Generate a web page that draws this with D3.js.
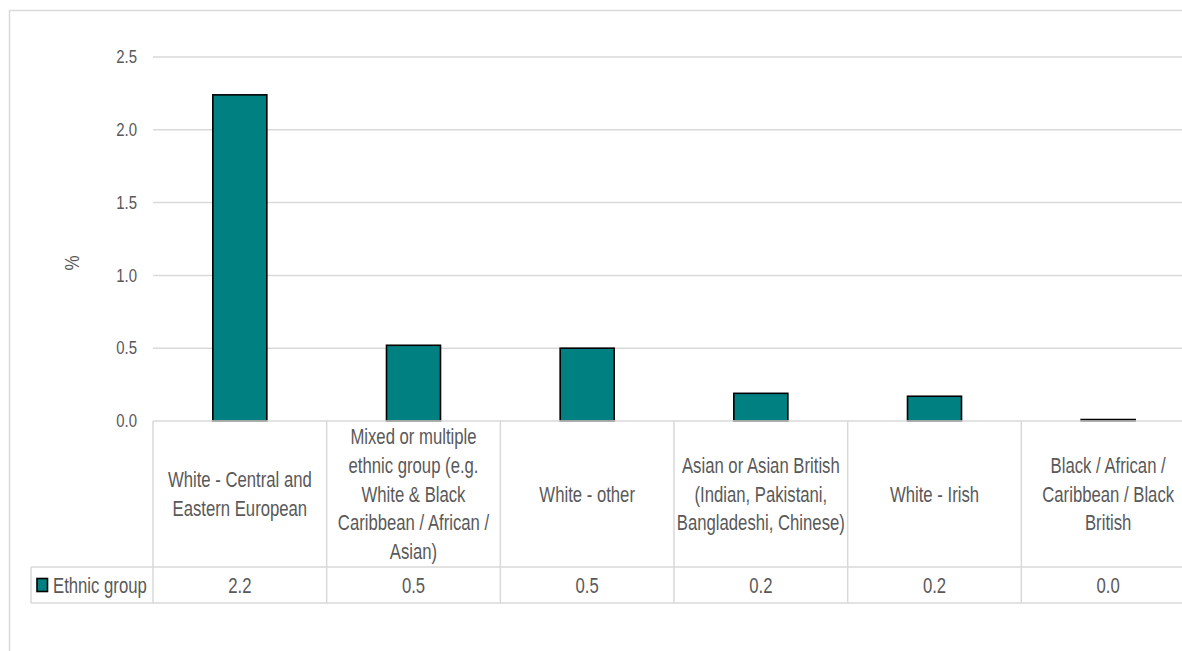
<!DOCTYPE html>
<html>
<head>
<meta charset="utf-8">
<script src="https://cdn.jsdelivr.net/npm/d3@7"></script>
<style>
  html, body { margin: 0; padding: 0; background: #fff; }
  svg { display: block; }
  text { font-family: "Liberation Sans", Arial, sans-serif; fill: #595959; }
</style>
</head>
<body>
<svg id="chart" width="1182" height="651"></svg>
<script>
// Share of respondents by ethnic group (%)
const categories = [
  "White - Central and Eastern European",
  "Mixed or multiple ethnic group (e.g. White & Black Caribbean / African / Asian)",
  "White - other",
  "Asian or Asian British (Indian, Pakistani, Bangladeshi, Chinese)",
  "White - Irish",
  "Black / African / Caribbean / Black British"
];
const values = [2.24, 0.52, 0.50, 0.19, 0.17, 0.01];
const seriesName = "Ethnic group";
const yTicks = [0, 0.5, 1.0, 1.5, 2.0, 2.5];
const yTitle = "%";

const svg = d3.select("#chart");
const grid = "#d9d9d9";
const teal = "#008080";
const SX = 0.76;       // horizontal squeeze giving a narrow face
const SX_TICK = 0.83;
const FS = 22;

const plotLeft = 153, plotRight = 1195;
const plotTop = 57, plotBottom = 421;
const catRowBottom = 567, valRowBottom = 603;
const legendLeft = 31;

const x = d3.scaleBand().domain(categories).range([plotLeft, plotRight]).padding(0);
const y = d3.scaleLinear().domain([0, 2.5]).range([plotBottom, plotTop]);
const barW = 54;

// narrow text placed at (px, py)
function label(parent, px, py, anchor, size, str) {
  const g = parent.append("g").attr("transform", `translate(${px},${py}) scale(${SX},1)`);
  return g.append("text").attr("text-anchor", anchor).attr("font-size", size)
    .attr("dy", "0.35em").text(str);
}

// outer chart frame
svg.append("path")
  .attr("d", `M9.5,651 V10.5 H1182`)
  .attr("fill", "none").attr("stroke", grid).attr("stroke-width", 1.5);

// gridlines
svg.append("g").selectAll("line").data(yTicks.filter(d => d > 0)).join("line")
  .attr("x1", plotLeft).attr("x2", plotRight)
  .attr("y1", d => y(d)).attr("y2", d => y(d))
  .attr("stroke", grid).attr("stroke-width", 1.5);

// y axis tick labels
const yAxis = d3.axisLeft(y).tickValues(yTicks).tickFormat(d3.format(".1f")).tickSize(0).tickPadding(16);
const yg = svg.append("g").attr("transform", `translate(${plotLeft},0)`).call(yAxis);
yg.select(".domain").remove();
yg.selectAll("text")
  .attr("font-size", 18).attr("fill", "#595959")
  .attr("font-family", "Liberation Sans, Arial, sans-serif")
  .attr("x", -16 / SX_TICK).attr("transform", `scale(${SX_TICK},1)`);

// y axis title
svg.append("g").attr("transform", `translate(72,${(plotTop + plotBottom) / 2 + 24}) rotate(-90)`)
  .append("text").attr("text-anchor", "middle").attr("font-size", 20)
  .attr("transform", `scale(0.85,1)`).attr("dy", "0.35em").text(yTitle);

// bars
svg.append("g").selectAll("rect").data(values).join("rect")
  .attr("x", (d, i) => x(categories[i]) + x.bandwidth() / 2 - barW / 2)
  .attr("width", barW)
  .attr("y", d => y(d))
  .attr("height", d => y(0) - y(d))
  .attr("fill", teal).attr("stroke", "#000").attr("stroke-width", 1.6);

// data table grid
const tg = svg.append("g").attr("stroke", grid).attr("stroke-width", 1.5);
tg.append("line").attr("x1", plotLeft).attr("x2", plotRight).attr("y1", plotBottom).attr("y2", plotBottom);
tg.append("line").attr("x1", legendLeft).attr("x2", plotRight).attr("y1", catRowBottom).attr("y2", catRowBottom);
tg.append("line").attr("x1", legendLeft).attr("x2", plotRight).attr("y1", valRowBottom).attr("y2", valRowBottom);
tg.append("line").attr("x1", legendLeft).attr("x2", legendLeft).attr("y1", catRowBottom).attr("y2", valRowBottom);
tg.selectAll("line.v").data(categories).join("line").attr("class", "v")
  .attr("x1", d => x(d)).attr("x2", d => x(d))
  .attr("y1", plotBottom).attr("y2", valRowBottom);

// category labels, wrapped to the cell width
const lineH = 28.6;
const maxW = 172;
const mid = (plotBottom + catRowBottom) / 2;
categories.forEach(cat => {
  const cx = x(cat) + x.bandwidth() / 2;
  const g = svg.append("g").attr("transform", `translate(${cx},0) scale(${SX},1)`);
  const t = g.append("text").attr("text-anchor", "middle").attr("font-size", FS);
  const probe = t.append("tspan");
  const words = cat.split(" ");
  const lines = [];
  let cur = [];
  words.forEach(w => {
    probe.text(cur.concat(w).join(" "));
    if (probe.node().getComputedTextLength() * SX > maxW && cur.length) {
      lines.push(cur.join(" "));
      cur = [w];
    } else cur.push(w);
  });
  lines.push(cur.join(" "));
  probe.remove();
  lines.forEach((ln, k) => {
    t.append("tspan").attr("x", 0)
      .attr("y", mid + (k - (lines.length - 1) / 2) * lineH)
      .attr("dy", "0.35em").text(ln);
  });
});

// value row
const fmt = d3.format(".1f");
const rowMid = (catRowBottom + valRowBottom) / 2;
values.forEach((v, i) => {
  label(svg, x(categories[i]) + x.bandwidth() / 2, rowMid, "middle", FS, fmt(v));
});

// legend key in the table
svg.append("rect").attr("x", 37).attr("y", rowMid - 6.5).attr("width", 10.5).attr("height", 13)
  .attr("fill", teal).attr("stroke", "#000").attr("stroke-width", 1.6);
label(svg, 53, rowMid, "start", FS, seriesName);
</script>
</body>
</html>
